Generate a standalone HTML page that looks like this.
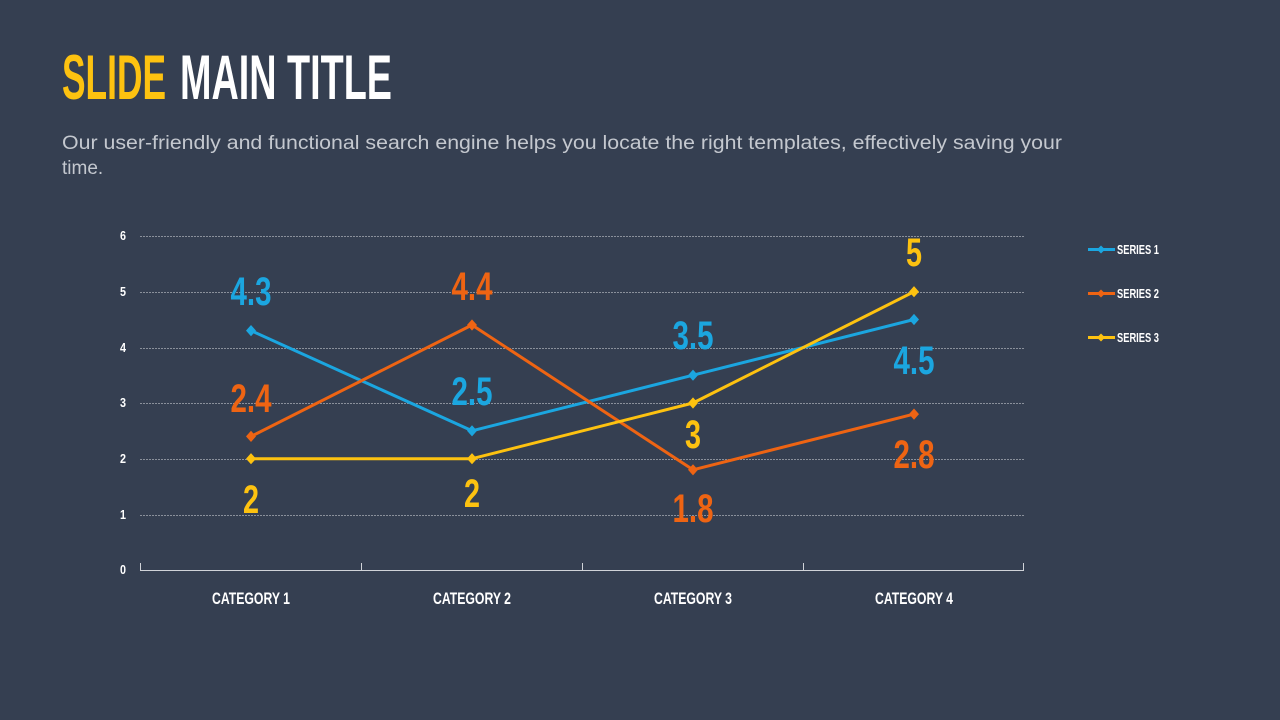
<!DOCTYPE html>
<html><head><meta charset="utf-8"><style>
html,body{margin:0;padding:0;background:#353f51;width:1280px;height:720px;overflow:hidden}
svg{display:block}
.c{font-family:"Liberation Sans Narrow","Liberation Sans",sans-serif;font-weight:bold}
</style></head><body>
<svg width="1280" height="720" viewBox="0 0 1280 720">
<rect width="1280" height="720" fill="#353f51"/>
<text class="c" x="62" y="99" font-size="63" fill="#fdc210" textLength="104" lengthAdjust="spacingAndGlyphs">SLIDE</text>
<text class="c" x="180" y="99" font-size="63" fill="#ffffff" textLength="212" lengthAdjust="spacingAndGlyphs">MAIN TITLE</text>
<text x="62" y="149" font-family="Liberation Sans,sans-serif" font-size="19" fill="#c4c8cf" textLength="1000" lengthAdjust="spacingAndGlyphs">Our user-friendly and functional search engine helps you locate the right templates, effectively saving your</text>
<text x="62" y="174" font-family="Liberation Sans,sans-serif" font-size="19" fill="#c4c8cf">time.</text>
<g stroke="#8a909b" stroke-width="1" stroke-dasharray="2,1">
<line x1="140" x2="1024" y1="236.5" y2="236.5"/>
<line x1="140" x2="1024" y1="292.5" y2="292.5"/>
<line x1="140" x2="1024" y1="348.5" y2="348.5"/>
<line x1="140" x2="1024" y1="403.5" y2="403.5"/>
<line x1="140" x2="1024" y1="459.5" y2="459.5"/>
<line x1="140" x2="1024" y1="515.5" y2="515.5"/>
</g>
<g stroke="#d0d3d8" stroke-width="1">
<line x1="140" x2="1024" y1="570.5" y2="570.5"/>
<line x1="140.5" x2="140.5" y1="563" y2="571"/>
<line x1="361.5" x2="361.5" y1="563" y2="571"/>
<line x1="582.5" x2="582.5" y1="563" y2="571"/>
<line x1="803.5" x2="803.5" y1="563" y2="571"/>
<line x1="1023.5" x2="1023.5" y1="563" y2="571"/>
</g>
<g class="c" font-size="13" fill="#ffffff" text-anchor="end">
<text x="126" y="240" textLength="6" lengthAdjust="spacingAndGlyphs">6</text><text x="126" y="296" textLength="6" lengthAdjust="spacingAndGlyphs">5</text><text x="126" y="352" textLength="6" lengthAdjust="spacingAndGlyphs">4</text>
<text x="126" y="407" textLength="6" lengthAdjust="spacingAndGlyphs">3</text><text x="126" y="463" textLength="6" lengthAdjust="spacingAndGlyphs">2</text><text x="126" y="519" textLength="6" lengthAdjust="spacingAndGlyphs">1</text><text x="126" y="574" textLength="6" lengthAdjust="spacingAndGlyphs">0</text>
</g>
<g class="c" font-size="17" fill="#ffffff" text-anchor="middle">
<text x="251" y="604" textLength="78" lengthAdjust="spacingAndGlyphs">CATEGORY 1</text><text x="472" y="604" textLength="78" lengthAdjust="spacingAndGlyphs">CATEGORY 2</text>
<text x="693" y="604" textLength="78" lengthAdjust="spacingAndGlyphs">CATEGORY 3</text><text x="914" y="604" textLength="78" lengthAdjust="spacingAndGlyphs">CATEGORY 4</text>
</g>
<g fill="none" stroke-width="3" stroke-linejoin="round">
<polyline stroke="#1ba6e0" points="251,330.6 472,430.8 693,375.2 914,319.5"/>
<polyline stroke="#ee6413" points="251,436.4 472,325 693,469.8 914,414.1"/>
<polyline stroke="#fdc210" points="251,458.7 472,458.7 693,403 914,291.7"/>
</g>
<g fill="#1ba6e0"><path d="M251 325l5 5.6-5 5.6-5-5.6z M472 425.2l5 5.6-5 5.6-5-5.6z M693 369.6l5 5.6-5 5.6-5-5.6z M914 313.9l5 5.6-5 5.6-5-5.6z"/></g>
<g fill="#ee6413"><path d="M251 430.8l5 5.6-5 5.6-5-5.6z M472 319.4l5 5.6-5 5.6-5-5.6z M693 464.2l5 5.6-5 5.6-5-5.6z M914 408.5l5 5.6-5 5.6-5-5.6z"/></g>
<g fill="#fdc210"><path d="M251 453.1l5 5.6-5 5.6-5-5.6z M472 453.1l5 5.6-5 5.6-5-5.6z M693 397.4l5 5.6-5 5.6-5-5.6z M914 286.1l5 5.6-5 5.6-5-5.6z"/></g>
<g class="c" font-size="40" text-anchor="middle">
<g fill="#1ba6e0">
<text x="251" y="305" textLength="41" lengthAdjust="spacingAndGlyphs">4.3</text>
<text x="472" y="405" textLength="41" lengthAdjust="spacingAndGlyphs">2.5</text>
<text x="693" y="349" textLength="41" lengthAdjust="spacingAndGlyphs">3.5</text>
<text x="914" y="374" textLength="41" lengthAdjust="spacingAndGlyphs">4.5</text>
</g>
<g fill="#ee6413">
<text x="251" y="412" textLength="41" lengthAdjust="spacingAndGlyphs">2.4</text>
<text x="472" y="300" textLength="41" lengthAdjust="spacingAndGlyphs">4.4</text>
<text x="693" y="522" textLength="41" lengthAdjust="spacingAndGlyphs">1.8</text>
<text x="914" y="468" textLength="41" lengthAdjust="spacingAndGlyphs">2.8</text>
</g>
<g fill="#fdc210">
<text x="251" y="513" textLength="16" lengthAdjust="spacingAndGlyphs">2</text>
<text x="472" y="507" textLength="16" lengthAdjust="spacingAndGlyphs">2</text>
<text x="693" y="448" textLength="16" lengthAdjust="spacingAndGlyphs">3</text>
<text x="914" y="266" textLength="16" lengthAdjust="spacingAndGlyphs">5</text>
</g>
</g>
<g stroke-width="3">
<line x1="1088" x2="1115" y1="249.5" y2="249.5" stroke="#1ba6e0"/>
<line x1="1088" x2="1115" y1="293.5" y2="293.5" stroke="#ee6413"/>
<line x1="1088" x2="1115" y1="337.5" y2="337.5" stroke="#fdc210"/>
</g>
<path d="M1101 245.5l4 4-4 4-4-4z" fill="#1ba6e0"/>
<path d="M1101 289.5l4 4-4 4-4-4z" fill="#ee6413"/>
<path d="M1101 333.5l4 4-4 4-4-4z" fill="#fdc210"/>
<g class="c" font-size="13" fill="#ffffff">
<text x="1117" y="254" textLength="42" lengthAdjust="spacingAndGlyphs">SERIES 1</text><text x="1117" y="298" textLength="42" lengthAdjust="spacingAndGlyphs">SERIES 2</text><text x="1117" y="342" textLength="42" lengthAdjust="spacingAndGlyphs">SERIES 3</text>
</g>
</svg>
</body></html>
